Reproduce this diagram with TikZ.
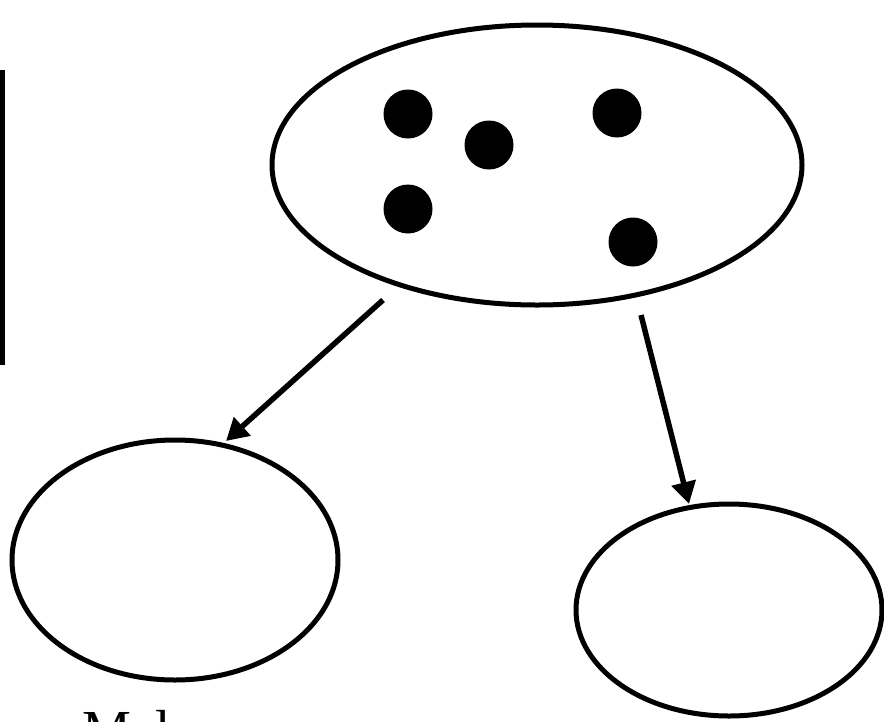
\documentclass[tikz,border=0pt]{standalone}
\usepackage{fontspec}
\setmainfont{Liberation Serif}
\usetikzlibrary{shapes.geometric,arrows.meta}
\begin{document}
\begin{tikzpicture}[x=1pt,y=-1pt,
  oval/.style={draw,ellipse,line width=5pt,inner sep=0pt},
  dot/.style={circle,fill=black,inner sep=0pt,minimum size=49pt},
  arr/.style={line width=5.5pt,-{Triangle[length=22pt,width=24pt]}}]
\useasboundingbox (0,0) rectangle (884,721);
\fill (0,70) rectangle (5,365);
\node[oval,minimum width=530pt,minimum height=280pt] (top) at (537,165) {};
\node[oval,minimum width=326pt,minimum height=240pt] (left) at (175,560) {};
\node[oval,minimum width=306pt,minimum height=212pt] (right) at (729,610) {};
\node[dot] (d1) at (408,114) {};
\node[dot] (d2) at (489,145) {};
\node[dot] (d3) at (617,113) {};
\node[dot] (d4) at (408,209) {};
\node[dot] (d5) at (633,242) {};
\coordinate (s1) at (383,300);
\coordinate (e1) at (226,441);
\coordinate (s2) at (641,315);
\coordinate (e2) at (689,504);
\draw[arr] (s1) -- (e1);
\draw[arr] (s2) -- (e2);
\node[anchor=base west,inner sep=0pt,font=\fontsize{55}{60}\selectfont] (t) at (82,748) {Mal};
\end{tikzpicture}
\end{document}
